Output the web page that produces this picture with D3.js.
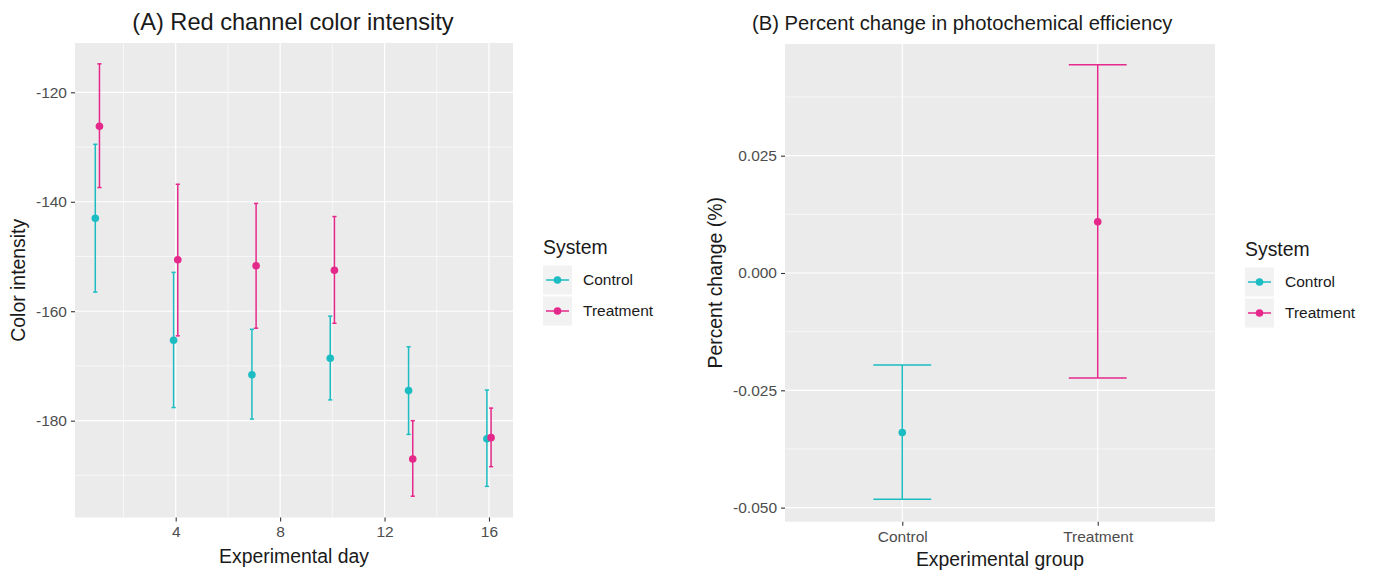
<!DOCTYPE html>
<html>
<head>
<meta charset="utf-8">
<script src="https://cdn.jsdelivr.net/npm/d3@7"></script>
<style>
  html, body { margin: 0; padding: 0; background: #fff; }
  svg { display: block; font-family: "Liberation Sans", Arial, Helvetica, sans-serif; }
</style>
</head>
<body>
<svg id="chart" width="1373" height="572"></svg>
<script>
// ---------- Data ----------
const systems = ["Control", "Treatment"];
const colors = ["#1BBDC3", "#E5298B"];

// Panel A: experimental day, mean, upper, lower
const days = [1, 4, 7, 10, 13, 16];
const controlMean  = [-143.0, -165.3, -171.6, -168.6, -174.5, -183.3];
const controlUpper = [-129.5, -152.9, -163.3, -160.9, -166.5, -174.4];
const controlLower = [-156.5, -177.6, -179.7, -176.2, -182.5, -192.0];
const treatMean    = [-126.2, -150.6, -151.7, -152.5, -187.0, -183.1];
const treatUpper   = [-114.8, -136.8, -140.3, -142.7, -180.0, -177.7];
const treatLower   = [-137.4, -164.5, -163.1, -162.2, -193.8, -188.4];
const xTicksA = [4, 8, 12, 16];
const xMinorA = [2, 6, 10, 14];
const yTicksA = [-120, -140, -160, -180];
const yMinorA = [-130, -150, -170, -190];

// Panel B: percent change in photochemical efficiency
const groups = ["Control", "Treatment"];
const pctMean  = [-0.0340, 0.0109];
const pctUpper = [-0.0196, 0.0444];
const pctLower = [-0.0482, -0.0224];
const yTicksB = [0.025, 0.000, -0.025, -0.050];
const yMinorB = [0.0375, 0.0125, -0.0125, -0.0375];

// ---------- Setup ----------
const svg = d3.select("#chart");
const panelBg = "#EBEBEB";
const tickCol = "#333333";
const labCol = "#4D4D4D";

// ===== Panel A =====
const A = { x0: 75, x1: 513, y0: 43, y1: 517.5 };
const xA = d3.scaleLinear().domain([0.143, 16.92]).range([A.x0, A.x1]);
const yA = d3.scaleLinear().domain([-197.69, -110.99]).range([A.y1, A.y0]);
const gA = svg.append("g");
gA.append("rect").attr("x", A.x0).attr("y", A.y0).attr("width", A.x1 - A.x0).attr("height", A.y1 - A.y0).attr("fill", panelBg);
// minor grid
gA.selectAll(".vminor").data(xMinorA).join("line")
  .attr("x1", d => xA(d)).attr("x2", d => xA(d)).attr("y1", A.y0).attr("y2", A.y1)
  .attr("stroke", "#fff").attr("stroke-width", 0.6);
gA.selectAll(".hminor").data(yMinorA).join("line")
  .attr("y1", d => yA(d)).attr("y2", d => yA(d)).attr("x1", A.x0).attr("x2", A.x1)
  .attr("stroke", "#fff").attr("stroke-width", 0.6);
// major grid
gA.selectAll(".vmajor").data(xTicksA).join("line")
  .attr("x1", d => xA(d)).attr("x2", d => xA(d)).attr("y1", A.y0).attr("y2", A.y1)
  .attr("stroke", "#fff").attr("stroke-width", 1.2);
gA.selectAll(".hmajor").data(yTicksA).join("line")
  .attr("y1", d => yA(d)).attr("y2", d => yA(d)).attr("x1", A.x0).attr("x2", A.x1)
  .attr("stroke", "#fff").attr("stroke-width", 1.2);

// axes
const axXA = gA.append("g").attr("transform", `translate(0,${A.y1})`)
  .call(d3.axisBottom(xA).tickValues(xTicksA).tickSize(4).tickPadding(4).tickFormat(d3.format("d")));
const axYA = gA.append("g").attr("transform", `translate(${A.x0},0)`)
  .call(d3.axisLeft(yA).tickValues(yTicksA).tickSize(4).tickPadding(4).tickFormat(d => d3.format("d")(d).replace("\u2212", "-")));
[axXA, axYA].forEach(ax => {
  ax.select(".domain").remove();
  ax.selectAll(".tick line").attr("stroke", tickCol).attr("stroke-width", 1.1);
  ax.selectAll(".tick text").attr("fill", labCol).style("font-size", "15.5px").style("font-family", "Liberation Sans, Arial, sans-serif");
});

// series
const dodge = 0.08;
const seriesA = [
  { name: "Control", color: colors[0], off: -dodge, mean: controlMean, up: controlUpper, lo: controlLower },
  { name: "Treatment", color: colors[1], off: dodge, mean: treatMean, up: treatUpper, lo: treatLower }
];
const capA = 0.08;
seriesA.forEach(s => {
  const pts = days.map((d, i) => ({ x: d + s.off, m: s.mean[i], u: s.up[i], l: s.lo[i] }));
  const g = gA.append("g").attr("stroke", s.color).attr("fill", s.color);
  g.selectAll(".v").data(pts).join("line")
    .attr("x1", d => xA(d.x)).attr("x2", d => xA(d.x)).attr("y1", d => yA(d.u)).attr("y2", d => yA(d.l))
    .attr("stroke-width", 1.5);
  g.selectAll(".cu").data(pts).join("line")
    .attr("x1", d => xA(d.x - capA)).attr("x2", d => xA(d.x + capA)).attr("y1", d => yA(d.u)).attr("y2", d => yA(d.u))
    .attr("stroke-width", 1.5);
  g.selectAll(".cl").data(pts).join("line")
    .attr("x1", d => xA(d.x - capA)).attr("x2", d => xA(d.x + capA)).attr("y1", d => yA(d.l)).attr("y2", d => yA(d.l))
    .attr("stroke-width", 1.5);
  g.selectAll("circle").data(pts).join("circle")
    .attr("cx", d => xA(d.x)).attr("cy", d => yA(d.m)).attr("r", 3.8).attr("stroke", "none");
});

// titles
svg.append("text").attr("x", 293).attr("y", 30).attr("text-anchor", "middle")
  .style("font-size", "23.6px").attr("fill", "#1a1a1a").text("(A) Red channel color intensity");
svg.append("text").attr("x", (A.x0 + A.x1) / 2).attr("y", 563).attr("text-anchor", "middle")
  .style("font-size", "19.4px").attr("fill", "#1a1a1a").text("Experimental day");
svg.append("text").attr("transform", `translate(25,${(A.y0 + A.y1) / 2}) rotate(-90)`).attr("text-anchor", "middle")
  .style("font-size", "19.4px").attr("fill", "#1a1a1a").text("Color intensity");

// ===== Panel B =====
const B = { x0: 785, x1: 1215, y0: 44, y1: 521.7 };
const xB = d3.scalePoint().domain(groups).range([B.x0, B.x1]).padding(0.6);
const yB = d3.scaleLinear().domain([-0.0530, 0.0488]).range([B.y1, B.y0]);
const gB = svg.append("g");
gB.append("rect").attr("x", B.x0).attr("y", B.y0).attr("width", B.x1 - B.x0).attr("height", B.y1 - B.y0).attr("fill", panelBg);
gB.selectAll(".hminor").data(yMinorB).join("line")
  .attr("y1", d => yB(d)).attr("y2", d => yB(d)).attr("x1", B.x0).attr("x2", B.x1)
  .attr("stroke", "#fff").attr("stroke-width", 0.6);
gB.selectAll(".hmajor").data(yTicksB).join("line")
  .attr("y1", d => yB(d)).attr("y2", d => yB(d)).attr("x1", B.x0).attr("x2", B.x1)
  .attr("stroke", "#fff").attr("stroke-width", 1.2);
gB.selectAll(".vmajor").data(groups).join("line")
  .attr("x1", d => xB(d)).attr("x2", d => xB(d)).attr("y1", B.y0).attr("y2", B.y1)
  .attr("stroke", "#fff").attr("stroke-width", 1.2);

const axXB = gB.append("g").attr("transform", `translate(0,${B.y1})`)
  .call(d3.axisBottom(xB).tickSize(4).tickPadding(5));
const axYB = gB.append("g").attr("transform", `translate(${B.x0},0)`)
  .call(d3.axisLeft(yB).tickValues(yTicksB).tickSize(4).tickPadding(4).tickFormat(d => d3.format(".3f")(d).replace("\u2212", "-")));
[axXB, axYB].forEach(ax => {
  ax.select(".domain").remove();
  ax.selectAll(".tick line").attr("stroke", tickCol).attr("stroke-width", 1.1);
  ax.selectAll(".tick text").attr("fill", labCol).style("font-size", "15.5px").style("font-family", "Liberation Sans, Arial, sans-serif");
});

const capB = 0.148; // fraction of step
const stepB = xB.step();
const ptsB = groups.map((g, i) => ({ g, m: pctMean[i], u: pctUpper[i], l: pctLower[i], c: colors[i] }));
const eb = gB.selectAll(".eb").data(ptsB).join("g").attr("stroke", d => d.c).attr("fill", d => d.c);
eb.append("line").attr("x1", d => xB(d.g)).attr("x2", d => xB(d.g)).attr("y1", d => yB(d.u)).attr("y2", d => yB(d.l)).attr("stroke-width", 1.5);
eb.append("line").attr("x1", d => xB(d.g) - capB * stepB).attr("x2", d => xB(d.g) + capB * stepB).attr("y1", d => yB(d.u)).attr("y2", d => yB(d.u)).attr("stroke-width", 1.5);
eb.append("line").attr("x1", d => xB(d.g) - capB * stepB).attr("x2", d => xB(d.g) + capB * stepB).attr("y1", d => yB(d.l)).attr("y2", d => yB(d.l)).attr("stroke-width", 1.5);
eb.append("circle").attr("cx", d => xB(d.g)).attr("cy", d => yB(d.m)).attr("r", 3.8).attr("stroke", "none");

svg.append("text").attr("x", 752).attr("y", 30).attr("text-anchor", "start")
  .style("font-size", "20.2px").attr("fill", "#1a1a1a").text("(B) Percent change in photochemical efficiency");
svg.append("text").attr("x", (B.x0 + B.x1) / 2).attr("y", 566).attr("text-anchor", "middle")
  .style("font-size", "19.4px").attr("fill", "#1a1a1a").text("Experimental group");
svg.append("text").attr("transform", `translate(722,${(B.y0 + B.y1) / 2}) rotate(-90)`).attr("text-anchor", "middle")
  .style("font-size", "19.4px").attr("fill", "#1a1a1a").text("Percent change (%)");

// ===== Legends =====
function legend(x, titleY, keyY0, keyH, keyGap) {
  const g = svg.append("g");
  g.append("text").attr("x", x).attr("y", titleY).style("font-size", "19.4px").attr("fill", "#1a1a1a").text("System");
  systems.forEach((s, i) => {
    const ky = keyY0 + i * (keyH + keyGap);
    g.append("rect").attr("x", x).attr("y", ky).attr("width", 29).attr("height", keyH).attr("fill", "#F2F2F2");
    g.append("line").attr("x1", x + 3).attr("x2", x + 26).attr("y1", ky + keyH / 2).attr("y2", ky + keyH / 2)
      .attr("stroke", colors[i]).attr("stroke-width", 1.5);
    g.append("circle").attr("cx", x + 14.5).attr("cy", ky + keyH / 2).attr("r", 3.8).attr("fill", colors[i]);
    g.append("text").attr("x", x + 40).attr("y", ky + keyH / 2).attr("dy", "0.35em")
      .style("font-size", "15.5px").attr("fill", "#1a1a1a").text(s);
  });
}
legend(543, 254, 265.5, 29, 2);
legend(1245, 256, 267.5, 29, 2);
</script>
</body>
</html>
